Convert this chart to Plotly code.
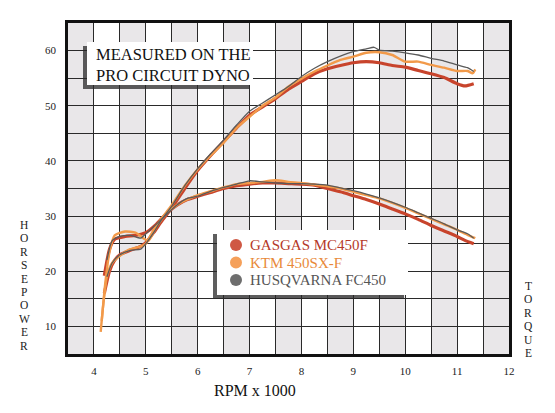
import plotly.graph_objects as go

# ---------------- data ----------------
gas_hp_x = [4.2, 4.3, 4.4, 4.5, 4.7, 4.9, 5.0, 5.15, 5.3, 5.5, 5.75, 6.0, 6.25, 6.5, 6.75, 7.0, 7.25, 7.5, 7.75,
            8.0, 8.25, 8.5, 8.75, 9.0, 9.25, 9.5, 9.75, 10.0, 10.25, 10.5, 10.75, 11.0, 11.15, 11.32]
gas_hp_y = [16, 20, 22, 23, 23.8, 24.5, 25.2, 27, 29, 31.5, 35, 38.3, 41, 43.5, 46, 48.3, 49.8, 51.3, 53,
            54.4, 55.8, 56.7, 57.3, 57.8, 58, 57.8, 57.3, 57, 56.4, 55.8, 55.1, 54, 53.6, 54]

gas_tq_x = [4.2, 4.3, 4.4, 4.6, 4.8, 5.0, 5.2, 5.4, 5.6, 5.8, 6.0, 6.25, 6.5, 6.75, 7.0, 7.25, 7.5, 7.75, 8.0,
            8.25, 8.5, 8.75, 9.0, 9.25, 9.5, 9.75, 10.0, 10.25, 10.5, 10.75, 11.0, 11.15, 11.32]
gas_tq_y = [19.2, 24, 25.8, 26.3, 26.5, 27, 28.5, 30.5, 32, 33, 33.6, 34.3, 35, 35.5, 35.8, 36, 36, 35.9, 35.8,
            35.6, 35, 34.4, 33.7, 33, 32.2, 31.3, 30.4, 29.4, 28.3, 27.3, 26.3, 25.6, 25]

ktm_hp_x = [4.13, 4.18, 4.25, 4.35, 4.5, 4.7, 4.9, 5.0, 5.15, 5.3, 5.5, 5.75, 6.0, 6.25, 6.5, 6.75, 7.0, 7.25,
            7.5, 7.75, 8.0, 8.25, 8.5, 8.75, 9.0, 9.25, 9.5, 9.75, 10.0, 10.25, 10.5, 10.75, 11.0, 11.2, 11.3, 11.35]
ktm_hp_y = [9, 14, 19, 21.5, 22.8, 24, 24.5, 25, 27.5, 29.5, 32, 35.5, 38.5, 41, 43.3, 46, 48, 50,
            51.5, 53.5, 54.9, 56.2, 57.3, 58.3, 58.9, 59.6, 59.7, 59.2, 58, 58, 57.4, 56.9, 56.3, 56.3, 55.9, 56.6]

ktm_tq_x = [4.15, 4.22, 4.3, 4.4, 4.6, 4.8, 4.95, 5.05, 5.2, 5.4, 5.6, 5.8, 6.0, 6.25, 6.5, 6.75, 7.0, 7.25,
            7.5, 7.75, 8.0, 8.25, 8.5, 8.75, 9.0, 9.25, 9.5, 9.75, 10.0, 10.25, 10.5, 10.75, 11.0, 11.2, 11.35]
ktm_tq_y = [11, 18, 23.5, 26.5, 27.2, 27, 26, 25.5, 28, 30.5, 32, 33, 33.8, 34.5, 35.2, 35.8, 36, 36.2,
            36.5, 36.2, 36, 35.7, 35.4, 35, 34.4, 33.8, 33.2, 32.4, 31.5, 30.5, 29.5, 28.5, 27.5, 26.6, 26]

hus_hp_x = [4.25, 4.35, 4.5, 4.7, 4.9, 5.0, 5.15, 5.3, 5.5, 5.75, 6.0, 6.25, 6.5, 6.75, 7.0, 7.25, 7.5, 7.75,
            8.0, 8.25, 8.5, 8.75, 9.0, 9.25, 9.4, 9.5, 9.75, 10.0, 10.25, 10.5, 10.75, 11.0, 11.2, 11.32]
hus_hp_y = [19, 21.5, 23, 23.8, 24, 25, 27, 29.3, 31.8, 35.5, 38.6, 41.3, 43.8, 46.5, 49, 50.5, 52, 53.5,
            55.3, 56.8, 58, 59, 59.8, 60.3, 60.6, 60.1, 59.9, 59.6, 59.2, 58.6, 58.1, 57.4, 56.9, 56.2]

hus_tq_x = [4.25, 4.35, 4.5, 4.7, 4.9, 5.0, 5.2, 5.4, 5.6, 5.8, 6.0, 6.25, 6.5, 6.75, 7.0, 7.25, 7.5, 7.75,
            8.0, 8.25, 8.5, 8.75, 9.0, 9.25, 9.5, 9.75, 10.0, 10.25, 10.5, 10.75, 11.0, 11.2, 11.32]
hus_tq_y = [22, 25.5, 26.3, 26.5, 26, 26.8, 28.5, 30.3, 32, 33.2, 33.6, 34.5, 35.2, 35.8, 36.4, 36.2, 36, 35.9,
            35.9, 35.8, 35.6, 35.1, 34.6, 34, 33.3, 32.5, 31.6, 30.6, 29.6, 28.6, 27.5, 26.8, 26]

x_tick_vals = [4, 5, 6, 7, 8, 9, 10, 11, 12]
y_tick_vals = [10, 20, 30, 40, 50, 60]
x_grid_vals = [3.5 + 0.5 * i for i in range(18)]
y_grid_vals = [5 * i for i in range(1, 14)]
stripe_starts = [3.5 + i for i in range(9)]

series_names = ["GASGAS MC450F", "KTM 450SX-F", "HUSQVARNA FC450"]
line_colors = ["#c8442c", "#f29a4a", "#5a5a5a"]
marker_colors = ["#cf5844", "#f5a05a", "#6e6e6e"]
text_colors = ["#b5392a", "#e8893a", "#555555"]
line_widths = [3.2, 2.4, 1.3]

FONT = "Liberation Serif"

# ---------------- layout helpers (pixel -> paper) ----------------
L, R, T, B = 68, 509, 23, 354
def px(x):
    return (x - L) / (R - L)
def py(y):
    return (B - y) / (B - T)

fig = go.Figure()

curves = [(gas_hp_x, gas_hp_y, gas_tq_x, gas_tq_y),
          (ktm_hp_x, ktm_hp_y, ktm_tq_x, ktm_tq_y),
          (hus_hp_x, hus_hp_y, hus_tq_x, hus_tq_y)]

for i, (hx, hy, tx, ty) in enumerate(curves):
    for xs, ys in ((hx, hy), (tx, ty)):
        fig.add_trace(go.Scatter(x=xs, y=ys, mode="lines", showlegend=False, hoverinfo="skip",
                                 name=series_names[i],
                                 line=dict(color=line_colors[i], width=line_widths[i],
                                           shape="spline", smoothing=0.6)))

shapes = []
for s in stripe_starts:
    shapes.append(dict(type="rect", xref="x", yref="paper", x0=s, x1=s + 0.5, y0=0, y1=1,
                       fillcolor="#e9e7e9", line=dict(width=0), layer="below"))

# text box with shadow
shapes.append(dict(type="rect", xref="paper", yref="paper", x0=px(83), x1=px(250), y0=py(89), y1=py(46),
                   fillcolor="rgba(40,40,40,0.75)", line=dict(width=0), layer="above"))
shapes.append(dict(type="rect", xref="paper", yref="paper", x0=px(87), x1=px(253), y0=py(85), y1=py(42),
                   fillcolor="white", line=dict(width=0), layer="above"))
# legend box with shadow
shapes.append(dict(type="rect", xref="paper", yref="paper", x0=px(213), x1=px(404), y0=py(299), y1=py(234),
                   fillcolor="rgba(40,40,40,0.75)", line=dict(width=0), layer="above"))
shapes.append(dict(type="rect", xref="paper", yref="paper", x0=px(217), x1=px(408), y0=py(295), y1=py(230),
                   fillcolor="white", line=dict(width=0), layer="above"))

annotations = [
    dict(xref="paper", yref="paper", x=px(94), y=py(43), xanchor="left", yanchor="top", align="left",
         text="MEASURED ON THE<br>PRO CIRCUIT DYNO", showarrow=False,
         font=dict(family=FONT, size=16.5, color="#111")),
    dict(xref="paper", yref="paper", x=px(255), y=py(380), xanchor="center", yanchor="top",
         text="RPM x 1000", showarrow=False, font=dict(family=FONT, size=16, color="#111")),
]

legend_rows = [245, 262.5, 280]
for i, name in enumerate(series_names):
    yc = legend_rows[i]
    shapes.append(dict(type="circle", xref="paper", yref="paper", x0=px(230), x1=px(242),
                       y0=py(yc + 6), y1=py(yc - 6), fillcolor=marker_colors[i],
                       line=dict(width=0), layer="above"))
    annotations.append(dict(xref="paper", yref="paper", x=px(248), y=py(yc), xanchor="left",
                            yanchor="middle", text=name, showarrow=False,
                            font=dict(family=FONT, size=15, color=text_colors[i])))

for k, ch in enumerate("HORSEPOWER"):
    annotations.append(dict(xref="paper", yref="paper", x=px(24), y=py(225 + 13.4 * k), xanchor="center",
                            yanchor="middle", text=ch, showarrow=False,
                            font=dict(family=FONT, size=11.5, color="#222")))
for k, ch in enumerate("TORQUE"):
    annotations.append(dict(xref="paper", yref="paper", x=px(528), y=py(286 + 13.4 * k), xanchor="center",
                            yanchor="middle", text=ch, showarrow=False,
                            font=dict(family=FONT, size=11.5, color="#222")))

fig.update_layout(
    width=555, height=413,
    margin=dict(l=L, r=555 - R, t=T, b=413 - B),
    paper_bgcolor="white", plot_bgcolor="white",
    font=dict(family=FONT, color="#222"),
    shapes=shapes, annotations=annotations,
    showlegend=False,
)
fig.update_xaxes(range=[3.5, 12], tickvals=x_tick_vals, ticktext=[str(v) for v in x_tick_vals],
                 showgrid=True, gridcolor="#2a2a2a", gridwidth=1.3,
                 minor=dict(tickvals=x_grid_vals, showgrid=True, gridcolor="#2a2a2a", gridwidth=1.3),
                 showline=True, mirror=True, linecolor="#111", linewidth=2.5, zeroline=False,
                 ticks="", ticklabelstandoff=5, tickfont=dict(family=FONT, size=11, color="#222"))
fig.update_yaxes(range=[5, 65], tickvals=y_tick_vals, ticktext=[str(v) for v in y_tick_vals],
                 showgrid=True, gridcolor="#2a2a2a", gridwidth=1.3,
                 minor=dict(tickvals=y_grid_vals, showgrid=True, gridcolor="#2a2a2a", gridwidth=1.3),
                 showline=True, mirror=True, linecolor="#111", linewidth=2.5, zeroline=False,
                 ticks="", ticklabelstandoff=7, tickfont=dict(family=FONT, size=11, color="#222"))

fig.write_html("out.html")
